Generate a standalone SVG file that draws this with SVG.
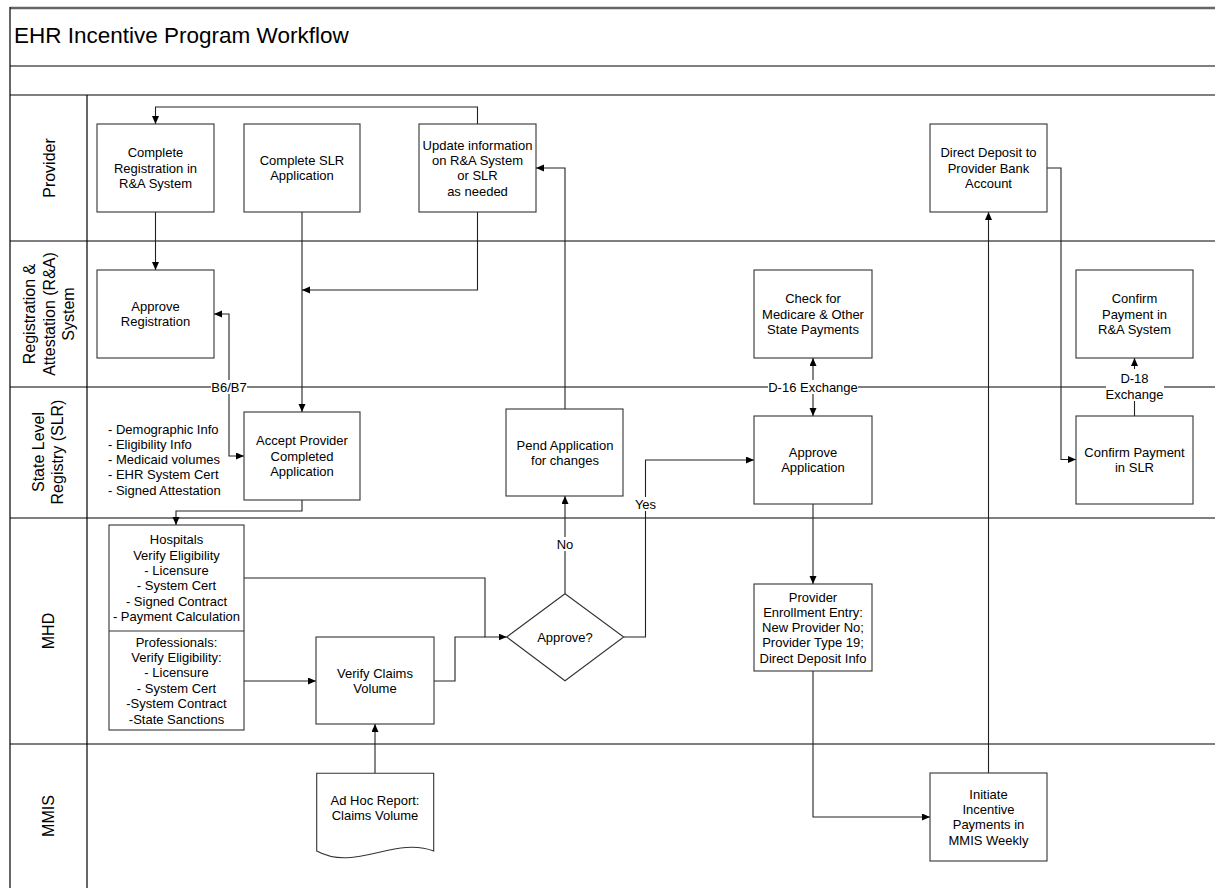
<svg xmlns="http://www.w3.org/2000/svg" width="1215" height="888" viewBox="0 0 1215 888">
<style>
text{font-family:"Liberation Sans",Arial,sans-serif;fill:#000}
.t{font-size:13px;text-anchor:middle}
.l{font-size:13px;text-anchor:start}
.lane{font-size:16px;text-anchor:middle}
.title{font-size:22.5px}
.frame{stroke:#000;stroke-width:1.2;fill:none}
.box{fill:#fff;stroke:#333;stroke-width:1.1}
.c{fill:none;stroke:#222;stroke-width:1.1}
.a{marker-end:url(#arr)}
.b{marker-start:url(#arr);marker-end:url(#arr)}
.bg{fill:#fff;stroke:none}
</style>
<defs>
<marker id="arr" markerUnits="userSpaceOnUse" markerWidth="10" markerHeight="8" refX="8" refY="3.5" orient="auto-start-reverse">
<path d="M0,0 L8,3.5 L0,7 z" fill="#000"/>
</marker>
</defs>
<rect x="0" y="0" width="1215" height="888" fill="#fff"/>
<g id="frame">
<line x1="10" y1="8" x2="1215" y2="8" stroke="#666" stroke-width="2.5"/>
<line class="frame" x1="10" y1="7" x2="10" y2="888"/>
<line class="frame" x1="10" y1="66" x2="1215" y2="66"/>
<line class="frame" x1="10" y1="95" x2="1215" y2="95"/>
<line class="frame" x1="10" y1="241" x2="1215" y2="241"/>
<line class="frame" x1="10" y1="387" x2="1215" y2="387"/>
<line class="frame" x1="10" y1="518" x2="1215" y2="518"/>
<line class="frame" x1="10" y1="744" x2="1215" y2="744"/>
<line class="frame" x1="87" y1="95" x2="87" y2="888"/>
<text class="title" x="14" y="43">EHR Incentive Program Workflow</text>
</g>
<g id="lanes">
<text class="lane" transform="translate(48,168) rotate(-90)" x="0" y="6.5">Provider</text>
<text class="lane" transform="translate(48,314) rotate(-90)"><tspan x="0" y="-13">Registration &amp;</tspan><tspan x="0" y="6.5">Attestation (R&amp;A)</tspan><tspan x="0" y="26">System</tspan></text>
<text class="lane" transform="translate(48,452) rotate(-90)"><tspan x="0" y="-4">State Level</tspan><tspan x="0" y="14.5">Registry (SLR)</tspan></text>
<text class="lane" transform="translate(48,631) rotate(-90)" x="0" y="6">MHD</text>
<text class="lane" transform="translate(48,816) rotate(-90)" x="0" y="6">MMIS</text>
</g>
<g id="connectors">
<path class="c a" d="M477.5,124 V107 H155.5 V124"/>
<path class="c a" d="M155.5,212 V270"/>
<path class="c a" d="M302,212 V412"/>
<path class="c a" d="M477.5,212 V290 H302"/>
<path class="c b" d="M214,314 H229 V456 H244"/>
<path class="c a" d="M302,500 V511 H176 V525"/>
<path class="c a" d="M244,578 H485 V637 H506.7"/>
<path class="c a" d="M244,681 H316"/>
<path class="c" d="M434,681 H455 V637 H485"/>
<path class="c a" d="M375,773 V724"/>
<path class="c a" d="M565,593.7 V496"/>
<path class="c a" d="M623.7,637 H645.5 V460 H754"/>
<path class="c a" d="M565,409 V168 H536"/>
<path class="c b" d="M813,416 V358"/>
<path class="c a" d="M813,504 V584"/>
<path class="c a" d="M813,671 V817 H930"/>
<path class="c a" d="M988.5,773 V212"/>
<path class="c a" d="M1047,168 H1061 V459.5 H1076"/>
<path class="c a" d="M1134.5,416 V358"/>
<rect class="bg" x="211" y="380" width="36" height="14"/>
<text class="t" x="229" y="391.6">B6/B7</text>
<rect class="bg" x="768" y="380" width="90" height="14"/>
<text class="t" x="813" y="391.6">D-16 Exchange</text>
<rect class="bg" x="1106" y="369" width="58" height="32"/>
<text class="t"><tspan x="1134.5" y="382.6">D-18</tspan><tspan x="1134.5" y="398.6">Exchange</tspan></text>
<rect class="bg" x="555" y="537" width="20" height="14"/>
<text class="t" x="565" y="548.6">No</text>
<rect class="bg" x="633" y="497" width="25" height="14"/>
<text class="t" x="645.5" y="508.6">Yes</text>
</g>
<g id="n_reg"><rect class="box" x="97" y="124" width="117" height="88"/>
<text class="t"><tspan x="155.5" y="157.3">Complete</tspan><tspan x="155.5" dy="15.3">Registration in</tspan><tspan x="155.5" dy="15.3">R&amp;A System</tspan></text></g>
<g id="n_slrapp"><rect class="box" x="244" y="124" width="116" height="88"/>
<text class="t"><tspan x="302" y="165">Complete SLR</tspan><tspan x="302" dy="15.3">Application</tspan></text></g>
<g id="n_update"><rect class="box" x="419" y="124" width="117" height="88"/>
<text class="t"><tspan x="477.5" y="149.7">Update information</tspan><tspan x="477.5" dy="15.3">on R&amp;A System</tspan><tspan x="477.5" dy="15.3">or SLR</tspan><tspan x="477.5" dy="15.3">as needed</tspan></text></g>
<g id="n_deposit"><rect class="box" x="930" y="124" width="117" height="88"/>
<text class="t"><tspan x="988.5" y="157.3">Direct Deposit to</tspan><tspan x="988.5" dy="15.3">Provider Bank</tspan><tspan x="988.5" dy="15.3">Account</tspan></text></g>
<g id="n_appreg"><rect class="box" x="97" y="270" width="117" height="88"/>
<text class="t"><tspan x="155.5" y="311">Approve</tspan><tspan x="155.5" dy="15.3">Registration</tspan></text></g>
<g id="n_check"><rect class="box" x="754" y="270" width="118" height="88"/>
<text class="t"><tspan x="813" y="303.3">Check for</tspan><tspan x="813" dy="15.3">Medicare &amp; Other</tspan><tspan x="813" dy="15.3">State Payments</tspan></text></g>
<g id="n_confra"><rect class="box" x="1076" y="270" width="117" height="88"/>
<text class="t"><tspan x="1134.5" y="303.3">Confirm</tspan><tspan x="1134.5" dy="15.3">Payment in</tspan><tspan x="1134.5" dy="15.3">R&amp;A System</tspan></text></g>
<g id="n_accept"><rect class="box" x="244" y="412" width="116" height="88"/>
<text class="t"><tspan x="302" y="445.3">Accept Provider</tspan><tspan x="302" dy="15.3">Completed</tspan><tspan x="302" dy="15.3">Application</tspan></text></g>
<g id="slr_data">
<text class="l"><tspan x="108" y="433.5">- Demographic Info</tspan><tspan x="108" dy="15.3">- Eligibility Info</tspan><tspan x="108" dy="15.3">- Medicaid volumes</tspan><tspan x="108" dy="15.3">- EHR System Cert</tspan><tspan x="108" dy="15.3">- Signed Attestation</tspan></text>
</g>
<g id="n_pend"><rect class="box" x="506" y="409" width="117" height="87"/>
<text class="t"><tspan x="565" y="449.5">Pend Application</tspan><tspan x="565" dy="15.3">for changes</tspan></text></g>
<g id="n_appapp"><rect class="box" x="754" y="416" width="118" height="88"/>
<text class="t"><tspan x="813" y="457">Approve</tspan><tspan x="813" dy="15.3">Application</tspan></text></g>
<g id="n_confslr"><rect class="box" x="1076" y="416" width="117" height="88"/>
<text class="t"><tspan x="1134.5" y="457">Confirm Payment</tspan><tspan x="1134.5" dy="15.3">in SLR</tspan></text></g>
<g id="n_verify">
<rect class="box" x="109" y="525" width="135" height="205"/>
<line x1="109" y1="631" x2="244" y2="631" stroke="#333" stroke-width="1.1"/>
<text class="t"><tspan x="176.5" y="544.1">Hospitals</tspan><tspan x="176.5" dy="15.4">Verify Eligibility</tspan><tspan x="176.5" dy="15.4">- Licensure</tspan><tspan x="176.5" dy="15.4">- System Cert</tspan><tspan x="176.5" dy="15.4">- Signed Contract</tspan><tspan x="176.5" dy="15.4">- Payment Calculation</tspan></text>
<text class="t"><tspan x="176.5" y="646.6">Professionals:</tspan><tspan x="176.5" dy="15.4">Verify Eligibility:</tspan><tspan x="176.5" dy="15.4">- Licensure</tspan><tspan x="176.5" dy="15.4">- System Cert</tspan><tspan x="176.5" dy="15.4">-System Contract</tspan><tspan x="176.5" dy="15.4">-State Sanctions</tspan></text>
</g>
<g id="n_claims"><rect class="box" x="316" y="637" width="118" height="87"/>
<text class="t"><tspan x="375" y="677.5">Verify Claims</tspan><tspan x="375" dy="15.3">Volume</tspan></text></g>
<g id="n_approve"><polygon class="box" points="506.7,637 565,593.7 623.7,637 565,680.7"/>
<text class="t" x="565" y="641.6">Approve?</text></g>
<g id="n_enroll"><rect class="box" x="754" y="584" width="118" height="87"/>
<text class="t"><tspan x="813" y="601.5">Provider</tspan><tspan x="813" dy="15.3">Enrollment Entry:</tspan><tspan x="813" dy="15.3">New Provider No;</tspan><tspan x="813" dy="15.3">Provider Type 19;</tspan><tspan x="813" dy="15.3">Direct Deposit Info</tspan></text></g>
<g id="n_adhoc"><path class="box" d="M316.7,773.3 H433.7 V851 C395,836 355,872 316.7,851 Z"/>
<text class="t"><tspan x="375" y="804.5">Ad Hoc Report:</tspan><tspan x="375" dy="15.3">Claims Volume</tspan></text></g>
<g id="n_initiate"><rect class="box" x="930" y="773" width="117" height="88"/>
<text class="t"><tspan x="988.5" y="798.7">Initiate</tspan><tspan x="988.5" dy="15.3">Incentive</tspan><tspan x="988.5" dy="15.3">Payments in</tspan><tspan x="988.5" dy="15.3">MMIS Weekly</tspan></text></g>
</svg>
